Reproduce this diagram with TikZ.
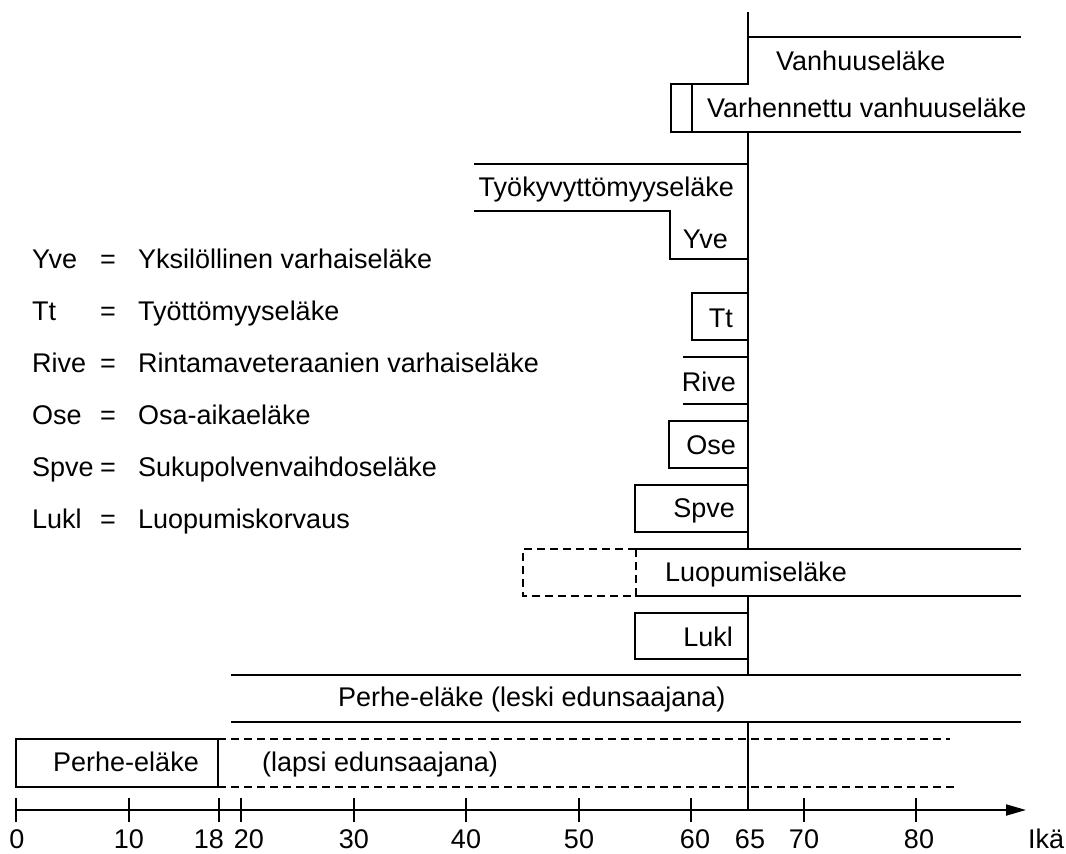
\documentclass[tikz,border=0pt]{standalone}
\usepackage{fontspec}
\setmainfont{Liberation Sans}
\usetikzlibrary{arrows.meta}
\tikzset{
  lbl/.style={inner sep=0pt, text height=19.4pt, text depth=0pt, font=\fontsize{27pt}{32pt}\selectfont},
  ln/.style={line width=2pt, line cap=rect},
  dsh/.style={line width=1.8pt, dash pattern=on 8pt off 5pt},
  tck/.style={line width=2pt}
}
\begin{document}
\begin{tikzpicture}[x=1pt,y=-1pt]
\useasboundingbox (0,0) rectangle (1066,854);
% main vertical line (age 65)
\coordinate (m0) at (747.5,13);
\coordinate (m1) at (747.5,84);
\coordinate (m2) at (747.5,132);
\coordinate (m3) at (747.5,549);
\coordinate (m4) at (747.5,596);
\coordinate (m5) at (747.5,675);
\coordinate (m6) at (747.5,722);
\coordinate (m7) at (747.5,810);
\draw[ln] (m0) -- (m1);
\draw[ln] (m2) -- (m3);
\draw[ln] (m4) -- (m5);
\draw[ln] (m6) -- (m7);
% Vanhuuselake
\draw[ln] (747.5,37) -- (1020,37);
\node[lbl,anchor=west] (vanh) at (776,61) {Vanhuuseläke};
% Varhennettu
\draw[ln] (747.5,84) -- (671,84) -- (671,132) -- (1020,132);
\draw[ln] (692,84) -- (692,132);
\node[lbl,anchor=west] (varh) at (707,108) {Varhennettu vanhuuseläke};
% Tyokyvyttomyys + Yve
\draw[ln] (475,164) -- (747.5,164);
\draw[ln] (475,211) -- (670,211) -- (670,259) -- (747.5,259);
\node[lbl,anchor=east] (tyok) at (734,187) {Työkyvyttömyyseläke};
\node[lbl,anchor=east] (yve) at (728,239) {Yve};
% Tt
\draw[ln] (747.5,293) -- (692,293) -- (692,340) -- (747.5,340);
\node[lbl,anchor=east] (tt) at (733,318) {Tt};
% Rive
\draw[ln] (684,357) -- (747.5,357);
\draw[ln] (684,404) -- (747.5,404);
\node[lbl,anchor=east] (rive) at (736,382) {Rive};
% Ose
\draw[ln] (747.5,421) -- (669,421) -- (669,468) -- (747.5,468);
\node[lbl,anchor=east] (ose) at (736,445) {Ose};
% Spve
\draw[ln] (747.5,485) -- (635,485) -- (635,532) -- (747.5,532);
\node[lbl,anchor=east] (spve) at (735,508) {Spve};
% Luopumiselake
\draw[ln] (636,549) -- (1020,549);
\draw[ln] (636,596) -- (1020,596);
\draw[dsh] (636,549) -- (523,549) -- (523,596) -- (636,596);
\draw[dsh] (636,549) -- (636,596);
\node[lbl,anchor=west] (luop) at (665,572) {Luopumiseläke};
% Lukl
\draw[ln] (747.5,613) -- (635,613) -- (635,659) -- (747.5,659);
\node[lbl,anchor=east] (lukl) at (733,637) {Lukl};
% Perhe-elake (leski)
\draw[ln] (232,675) -- (1020,675);
\draw[ln] (232,722) -- (1020,722);
\node[lbl,anchor=west] (leski) at (338,697) {Perhe-eläke (leski edunsaajana)};
% Perhe-elake (lapsi)
\draw[ln] (16,739) rectangle (218,787);
\node[lbl] (perhe) at (126,762) {Perhe-eläke};
\draw[dsh] (218,739) -- (950,739);
\draw[dsh] (218,787) -- (955,787);
\node[lbl,anchor=west] (lapsi) at (262,762) {(lapsi edunsaajana)};
% axis
\coordinate (a0) at (16,810);
\coordinate (a1) at (1026,810);
\draw[ln, line cap=butt, -{Triangle[length=20pt,width=11pt]}] (a0) -- (a1);
\foreach \a in {0,10,18,20,30,40,50,60,70,80}{
  \draw[tck] ({16+11.25*\a},798) -- ({16+11.25*\a},822);
}
\foreach \a/\xx in {0/17,10/129,30/354,40/466,50/579,60/695,65/750,70/804,80/919}{
  \node[lbl] (t\a) at (\xx,839) {\a};
}
\node[lbl] (t18) at (209,839) {18};
\node[lbl] (t20) at (249,839) {20};
\node[lbl,anchor=west] (ika) at (1028,839) {Ikä};
% legend
\foreach \ab/\df/\yy/\nm in {Yve/Yksilöllinen varhaiseläke/259/a,Tt/Työttömyyseläke/311/b,Rive/Rintamaveteraanien varhaiseläke/363/c,Ose/Osa-aikaeläke/415/d,Spve/Sukupolvenvaihdoseläke/467/e,Lukl/Luopumiskorvaus/519/f}{
  \node[lbl,anchor=west] (ab\nm) at (32,\yy) {\ab};
  \node[lbl] (eq\nm) at (108,\yy) {=};
  \node[lbl,anchor=west] (df\nm) at (138,\yy) {\df};
}
\end{tikzpicture}
\end{document}
